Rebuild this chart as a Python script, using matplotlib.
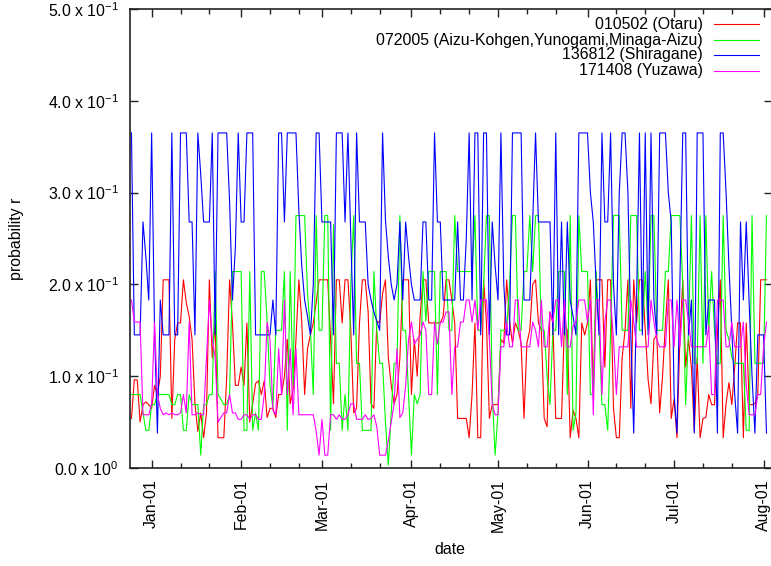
import numpy as np
import matplotlib
matplotlib.use("Agg")
import matplotlib.pyplot as plt
import matplotlib.dates as mdates
from matplotlib.lines import Line2D

plt.rcParams["font.family"] = ["Liberation Sans", "DejaVu Sans"]
plt.rcParams["mathtext.fontset"] = "custom"
plt.rcParams["mathtext.rm"] = "Liberation Sans"
plt.rcParams["mathtext.it"] = "Liberation Sans:italic"

# daily series, first day 2006-12-25
start_date = "2006-12-25"

otaru = [
    0.054, 0.096, 0.096, 0.05, 0.069, 0.072, 0.069, 0.065, 0.09, 0.08,
    0.1, 0.205, 0.205, 0.205, 0.054, 0.14, 0.158, 0.158, 0.205, 0.18,
    0.165, 0.14, 0.07, 0.04, 0.06, 0.033, 0.06, 0.205, 0.12, 0.158,
    0.033, 0.033, 0.033, 0.1, 0.205, 0.158, 0.09, 0.09, 0.11, 0.09,
    0.158, 0.05, 0.07, 0.092, 0.095, 0.08, 0.095, 0.055, 0.065, 0.065,
    0.055, 0.08, 0.08, 0.1, 0.14, 0.07, 0.085, 0.14, 0.205, 0.16,
    0.08, 0.13, 0.145, 0.158, 0.18, 0.205, 0.205, 0.205, 0.205, 0.14,
    0.07, 0.205, 0.205, 0.158, 0.205, 0.205, 0.15, 0.06, 0.065, 0.158,
    0.205, 0.205, 0.17, 0.07, 0.065, 0.16, 0.158, 0.19, 0.205, 0.12,
    0.09, 0.07, 0.08, 0.12, 0.205, 0.205, 0.205, 0.08, 0.14, 0.1,
    0.165, 0.205, 0.205, 0.158, 0.158, 0.158, 0.158, 0.158, 0.165, 0.205,
    0.205, 0.183, 0.158, 0.054, 0.054, 0.054, 0.054, 0.033, 0.08, 0.158,
    0.033, 0.033, 0.205, 0.158, 0.054, 0.069, 0.069, 0.069, 0.14, 0.136,
    0.205, 0.16, 0.136, 0.158, 0.15, 0.136, 0.054, 0.136, 0.15, 0.2,
    0.205, 0.158, 0.15, 0.054, 0.045, 0.17, 0.158, 0.054, 0.054, 0.054,
    0.158, 0.15, 0.033, 0.063, 0.054, 0.033, 0.158, 0.145, 0.158, 0.205,
    0.08, 0.205, 0.205, 0.205, 0.11, 0.205, 0.205, 0.065, 0.033, 0.033,
    0.12, 0.15, 0.205, 0.065, 0.205, 0.158, 0.205, 0.205, 0.15, 0.096,
    0.07, 0.14, 0.145, 0.06, 0.1, 0.158, 0.205, 0.054, 0.075, 0.033,
    0.14, 0.205, 0.11, 0.14, 0.11, 0.04, 0.12, 0.033, 0.054, 0.055,
    0.08, 0.069, 0.069, 0.145, 0.205, 0.033, 0.07, 0.093, 0.069, 0.11,
    0.158, 0.158, 0.033, 0.158, 0.069, 0.069, 0.07, 0.08, 0.205, 0.205, 0.205,
]

aizu = [
    0.08, 0.08, 0.08, 0.08, 0.06, 0.041, 0.041, 0.069, 0.069, 0.08,
    0.08, 0.08, 0.08, 0.08, 0.069, 0.069, 0.08, 0.08, 0.041, 0.041,
    0.08, 0.069, 0.069, 0.069, 0.014, 0.069, 0.069, 0.08, 0.08, 0.214,
    0.08, 0.075, 0.069, 0.069, 0.08, 0.214, 0.214, 0.214, 0.214, 0.041,
    0.041, 0.214, 0.041, 0.06, 0.041, 0.214, 0.214, 0.16, 0.09, 0.065,
    0.15, 0.15, 0.15, 0.214, 0.041, 0.214, 0.09, 0.275, 0.275, 0.275,
    0.275, 0.19, 0.15, 0.08, 0.275, 0.15, 0.15, 0.275, 0.275, 0.041,
    0.265, 0.114, 0.114, 0.041, 0.08, 0.041, 0.2, 0.275, 0.114, 0.114,
    0.041, 0.041, 0.041, 0.041, 0.214, 0.15, 0.114, 0.114, 0.05, 0.003,
    0.06, 0.114, 0.114, 0.275, 0.15, 0.15, 0.08, 0.014, 0.08, 0.07,
    0.08, 0.214, 0.16, 0.214, 0.214, 0.214, 0.08, 0.214, 0.214, 0.214,
    0.15, 0.15, 0.275, 0.214, 0.214, 0.214, 0.214, 0.214, 0.214, 0.275,
    0.15, 0.15, 0.2, 0.275, 0.275, 0.08, 0.014, 0.06, 0.15, 0.15,
    0.15, 0.2, 0.275, 0.275, 0.15, 0.15, 0.214, 0.214, 0.275, 0.214,
    0.275, 0.275, 0.15, 0.15, 0.1, 0.069, 0.15, 0.15, 0.214, 0.214,
    0.214, 0.08, 0.275, 0.041, 0.06, 0.275, 0.214, 0.214, 0.214, 0.08,
    0.08, 0.214, 0.15, 0.069, 0.069, 0.041, 0.15, 0.275, 0.275, 0.275,
    0.15, 0.15, 0.15, 0.275, 0.275, 0.275, 0.15, 0.15, 0.214, 0.15,
    0.275, 0.275, 0.15, 0.15, 0.15, 0.214, 0.214, 0.275, 0.275, 0.275,
    0.275, 0.2, 0.069, 0.15, 0.275, 0.114, 0.114, 0.275, 0.114, 0.275,
    0.15, 0.214, 0.15, 0.114, 0.114, 0.275, 0.15, 0.14, 0.12, 0.114,
    0.114, 0.114, 0.114, 0.041, 0.041, 0.275, 0.114, 0.114, 0.114, 0.114, 0.275,
]

shiragane = [
    0.365, 0.145, 0.145, 0.145, 0.268, 0.23, 0.183, 0.365, 0.15, 0.038,
    0.183, 0.145, 0.145, 0.145, 0.365, 0.145, 0.145, 0.365, 0.365, 0.365,
    0.268, 0.268, 0.145, 0.365, 0.32, 0.268, 0.268, 0.268, 0.365, 0.145,
    0.365, 0.365, 0.365, 0.365, 0.29, 0.183, 0.24, 0.365, 0.268, 0.268,
    0.365, 0.365, 0.365, 0.145, 0.145, 0.145, 0.145, 0.145, 0.145, 0.183,
    0.145, 0.365, 0.365, 0.268, 0.365, 0.365, 0.365, 0.365, 0.28, 0.22,
    0.183, 0.165, 0.145, 0.2, 0.365, 0.365, 0.268, 0.268, 0.268, 0.268,
    0.145, 0.365, 0.365, 0.365, 0.268, 0.365, 0.25, 0.145, 0.365, 0.268,
    0.268, 0.268, 0.2, 0.183, 0.17, 0.16, 0.15, 0.365, 0.27, 0.23,
    0.2, 0.183, 0.2, 0.268, 0.183, 0.268, 0.23, 0.2, 0.183, 0.183,
    0.183, 0.268, 0.268, 0.183, 0.183, 0.365, 0.268, 0.268, 0.183, 0.183,
    0.183, 0.183, 0.183, 0.268, 0.183, 0.183, 0.25, 0.365, 0.183, 0.365,
    0.365, 0.145, 0.365, 0.365, 0.145, 0.268, 0.22, 0.183, 0.365, 0.2,
    0.145, 0.145, 0.365, 0.365, 0.365, 0.365, 0.183, 0.183, 0.183, 0.268,
    0.365, 0.268, 0.268, 0.268, 0.268, 0.268, 0.145, 0.365, 0.145, 0.268,
    0.145, 0.268, 0.183, 0.165, 0.145, 0.365, 0.365, 0.365, 0.365, 0.3,
    0.268, 0.2, 0.145, 0.365, 0.268, 0.268, 0.365, 0.2, 0.145, 0.3,
    0.365, 0.365, 0.3, 0.145, 0.038, 0.183, 0.365, 0.145, 0.365, 0.145,
    0.365, 0.183, 0.145, 0.365, 0.365, 0.365, 0.3, 0.268, 0.08, 0.038,
    0.2, 0.365, 0.365, 0.145, 0.183, 0.038, 0.365, 0.365, 0.365, 0.145,
    0.183, 0.183, 0.183, 0.038, 0.365, 0.365, 0.3, 0.22, 0.15, 0.08,
    0.038, 0.268, 0.183, 0.268, 0.18, 0.1, 0.038, 0.145, 0.145, 0.145, 0.038,
]

yuzawa = [
    0.183, 0.159, 0.159, 0.159, 0.058, 0.058, 0.058, 0.07, 0.159, 0.08,
    0.065, 0.058, 0.06, 0.058, 0.06, 0.058, 0.058, 0.06, 0.08, 0.06,
    0.159, 0.058, 0.058, 0.06, 0.058, 0.058, 0.12, 0.183, 0.14, 0.12,
    0.05, 0.055, 0.06, 0.06, 0.08, 0.06, 0.06, 0.053, 0.053, 0.058,
    0.058, 0.053, 0.058, 0.058, 0.053, 0.053, 0.08, 0.159, 0.14, 0.063,
    0.058, 0.13, 0.08, 0.183, 0.08, 0.13, 0.058, 0.13, 0.058, 0.058,
    0.058, 0.058, 0.058, 0.058, 0.04, 0.014, 0.053, 0.014, 0.014, 0.058,
    0.058, 0.053, 0.058, 0.053, 0.053, 0.058, 0.07, 0.07, 0.053, 0.053,
    0.053, 0.058, 0.053, 0.054, 0.058, 0.045, 0.014, 0.014, 0.014, 0.03,
    0.05, 0.07, 0.13, 0.055, 0.06, 0.09, 0.14, 0.159, 0.135, 0.14,
    0.145, 0.159, 0.15, 0.08, 0.08, 0.159, 0.135, 0.159, 0.159, 0.17,
    0.17, 0.08, 0.132, 0.132, 0.159, 0.159, 0.183, 0.183, 0.159, 0.183,
    0.15, 0.183, 0.183, 0.183, 0.14, 0.069, 0.058, 0.058, 0.132, 0.132,
    0.159, 0.132, 0.132, 0.183, 0.183, 0.132, 0.132, 0.132, 0.132, 0.159,
    0.15, 0.132, 0.183, 0.132, 0.132, 0.17, 0.159, 0.183, 0.183, 0.132,
    0.183, 0.132, 0.132, 0.155, 0.159, 0.183, 0.183, 0.183, 0.159, 0.183,
    0.058, 0.183, 0.183, 0.08, 0.159, 0.183, 0.183, 0.14, 0.08, 0.132,
    0.132, 0.132, 0.132, 0.183, 0.16, 0.132, 0.132, 0.132, 0.132, 0.132,
    0.183, 0.159, 0.14, 0.132, 0.132, 0.132, 0.183, 0.183, 0.132, 0.183,
    0.132, 0.183, 0.183, 0.16, 0.132, 0.132, 0.132, 0.132, 0.132, 0.132,
    0.155, 0.08, 0.08, 0.183, 0.183, 0.183, 0.132, 0.132, 0.159, 0.132,
    0.132, 0.132, 0.159, 0.09, 0.058, 0.058, 0.058, 0.08, 0.08, 0.132, 0.159,
]

series_names = [
    "010502 (Otaru)",
    "072005 (Aizu-Kohgen,Yunogami,Minaga-Aizu)",
    "136812 (Shiragane)",
    "171408 (Yuzawa)",
]
series_colors = ["#ff0000", "#00ff00", "#0000ff", "#ff00ff"]

y_ticks = [0.0, 0.1, 0.2, 0.3, 0.4, 0.5]
y_ticklabels = [
    r"0.0 x 10$^{0}$",
    r"1.0 x 10$^{-1}$",
    r"2.0 x 10$^{-1}$",
    r"3.0 x 10$^{-1}$",
    r"4.0 x 10$^{-1}$",
    r"5.0 x 10$^{-1}$",
]

FS = 11.4
dates = np.arange(np.datetime64(start_date), np.datetime64(start_date) + len(otaru))

W, H = 771, 566
fig = plt.figure(figsize=(W / 100, H / 100), dpi=100)
ax = fig.add_axes([130 / W, (H - 468) / H, 642 / W, 459 / H])

for vals, col in zip([otaru, aizu, shiragane, yuzawa], series_colors):
    ax.plot(dates, vals, color=col, lw=0.8)

ax.set_ylim(0, 0.5)
ax.set_xlim(np.datetime64("2006-12-24T12"), np.datetime64("2007-08-03T22"))
ax.set_yticks(y_ticks)
ax.set_yticklabels(y_ticklabels, fontsize=FS)

ax.xaxis.set_major_locator(mdates.MonthLocator())
ax.xaxis.set_minor_locator(mdates.DayLocator(bymonthday=[11, 21]))
ax.xaxis.set_major_formatter(mdates.DateFormatter("%b-%d"))
for lab in ax.get_xticklabels():
    lab.set_rotation(90)
    lab.set_fontsize(FS)

ax.tick_params(which="both", direction="in", top=True, right=True, color="#222222")
ax.tick_params(which="major", length=6, width=1, pad=8)
ax.tick_params(which="minor", length=3.5, width=1)
for sp in ax.spines.values():
    sp.set_linewidth(1.2)
    sp.set_color("#222222")

ax.set_xlabel("date", fontsize=FS)
ax.set_ylabel("probability r", fontsize=FS)
ax.xaxis.set_label_coords(0.498, -0.162)
ax.yaxis.set_label_coords(-0.165, 0.5)

# legend, gnuplot style: right-justified text, line sample to the right
row_y = [24, 40, 55, 71]
for name, col, yy in zip(series_names, series_colors, row_y):
    fig.text(703 / W, 1 - yy / H, name, ha="right", va="center", fontsize=FS)
    fig.add_artist(Line2D([714 / W, 759 / W], [1 - yy / H, 1 - yy / H],
                          color=col, lw=0.8, transform=fig.transFigure))

fig.savefig("out.png", dpi=100)
